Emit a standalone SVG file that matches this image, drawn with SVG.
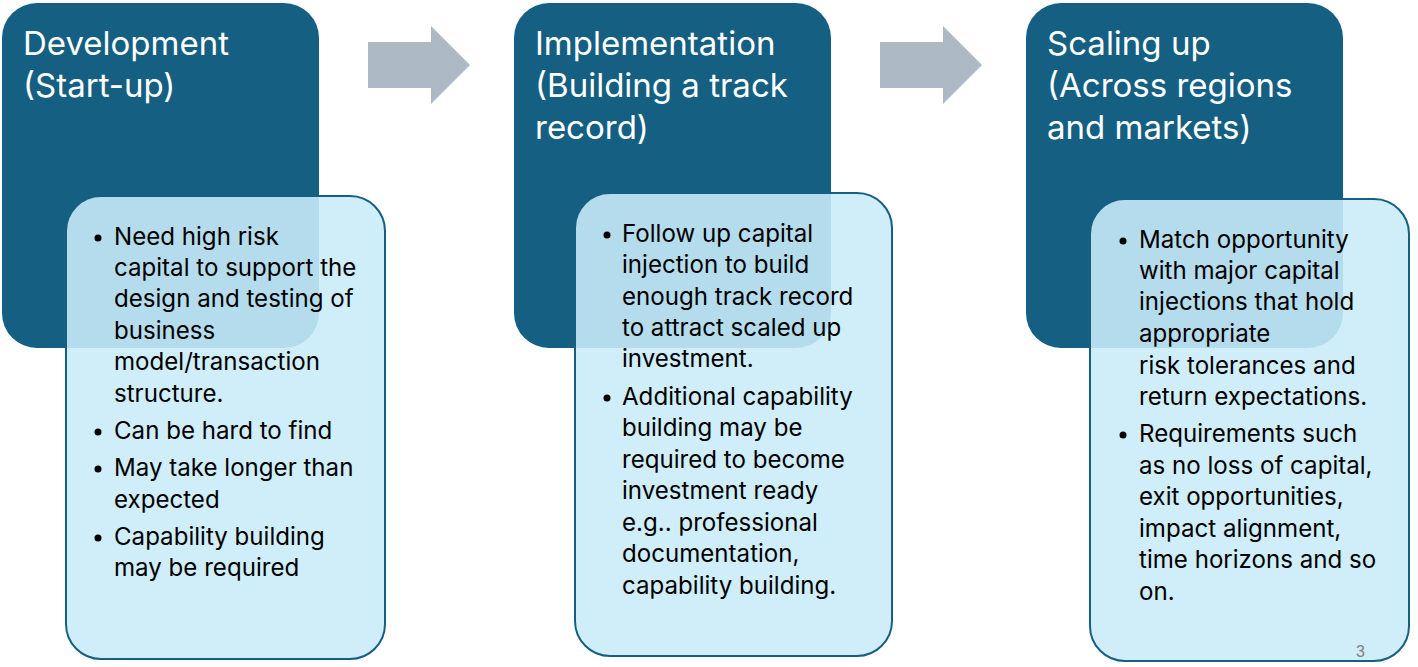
<svg xmlns="http://www.w3.org/2000/svg" width="1418" height="667" viewBox="0 0 1418 667">
<style>
.dark{fill:#155f82;}
.light{fill:#c9ecf9;fill-opacity:0.89;stroke:#155f82;stroke-width:2;}
.title{font-family:Inter,"Liberation Sans",sans-serif;font-size:33px;fill:#ffffff;}
.body{font-family:Inter,"Liberation Sans",sans-serif;font-size:24.1px;fill:#000000;}
.arrow{fill:#adb9c4;}
.pg{font-family:"Liberation Sans",sans-serif;font-size:16px;fill:#808080;}
</style>
<rect width="1418" height="667" fill="#ffffff"/>
<g id="connectors">
<polygon class="arrow" points="368,42 431,42 431,26 470,65 431,104 431,88 368,88"/>
<polygon class="arrow" points="880,42 943,42 943,26 982,65 943,104 943,88 880,88"/>
</g>
<g id="stage1">
<rect class="dark" x="2" y="3" width="317" height="345" rx="35"/>
<text class="title" x="23" y="55">Development</text>
<text class="title" x="23" y="97">(Start-up)</text>
</g>
<g id="stage2">
<rect class="dark" x="514" y="3" width="317" height="345" rx="35"/>
<text class="title" x="535" y="55">Implementation</text>
<text class="title" x="535" y="97">(Building a track</text>
<text class="title" x="535" y="139">record)</text>
</g>
<g id="stage3">
<rect class="dark" x="1026" y="3" width="317" height="345" rx="35"/>
<text class="title" x="1047" y="55">Scaling up</text>
<text class="title" x="1047" y="97">(Across regions</text>
<text class="title" x="1047" y="139">and markets)</text>
</g>
<g id="detail1">
<rect class="light" x="66" y="196" width="319" height="463" rx="35"/>
<g fill="#000"><circle cx="98" cy="238" r="3.5"/><circle cx="98" cy="432" r="3.5"/><circle cx="98" cy="469" r="3.5"/><circle cx="98" cy="538" r="3.5"/></g>
<text class="body" x="114" y="245">Need high risk</text>
<text class="body" x="114" y="276">capital to support the</text>
<text class="body" x="114" y="307">design and testing of</text>
<text class="body" x="114" y="339">business</text>
<text class="body" x="114" y="370">model/transaction</text>
<text class="body" x="114" y="402">structure.</text>
<text class="body" x="114" y="439">Can be hard to find</text>
<text class="body" x="114" y="476">May take longer than</text>
<text class="body" x="114" y="508">expected</text>
<text class="body" x="114" y="545">Capability building</text>
<text class="body" x="114" y="576">may be required</text>
</g>
<g id="detail2">
<rect class="light" x="575" y="193" width="317" height="463" rx="35"/>
<g fill="#000"><circle cx="607" cy="235" r="3.5"/><circle cx="607" cy="398" r="3.5"/></g>
<text class="body" x="622" y="242">Follow up capital</text>
<text class="body" x="622" y="273">injection to build</text>
<text class="body" x="622" y="305">enough track record</text>
<text class="body" x="622" y="336">to attract scaled up</text>
<text class="body" x="622" y="367">investment.</text>
<text class="body" x="622" y="405">Additional capability</text>
<text class="body" x="622" y="436">building may be</text>
<text class="body" x="622" y="468">required to become</text>
<text class="body" x="622" y="499">investment ready</text>
<text class="body" x="622" y="531">e.g.. professional</text>
<text class="body" x="622" y="562">documentation,</text>
<text class="body" x="622" y="594">capability building.</text>
</g>
<g id="detail3">
<rect class="light" x="1090" y="199" width="319" height="462" rx="35"/>
<g fill="#000"><circle cx="1123" cy="241" r="3.5"/><circle cx="1123" cy="435" r="3.5"/></g>
<text class="body" x="1139" y="248">Match opportunity</text>
<text class="body" x="1139" y="279">with major capital</text>
<text class="body" x="1139" y="310">injections that hold</text>
<text class="body" x="1139" y="342">appropriate</text>
<text class="body" x="1139" y="374">risk tolerances and</text>
<text class="body" x="1139" y="405">return expectations.</text>
<text class="body" x="1139" y="442">Requirements such</text>
<text class="body" x="1139" y="474">as no loss of capital,</text>
<text class="body" x="1139" y="505">exit opportunities,</text>
<text class="body" x="1139" y="537">impact alignment,</text>
<text class="body" x="1139" y="568">time horizons and so</text>
<text class="body" x="1139" y="600">on.</text>
</g>
<text class="pg" x="1356" y="657">3</text>
</svg>
